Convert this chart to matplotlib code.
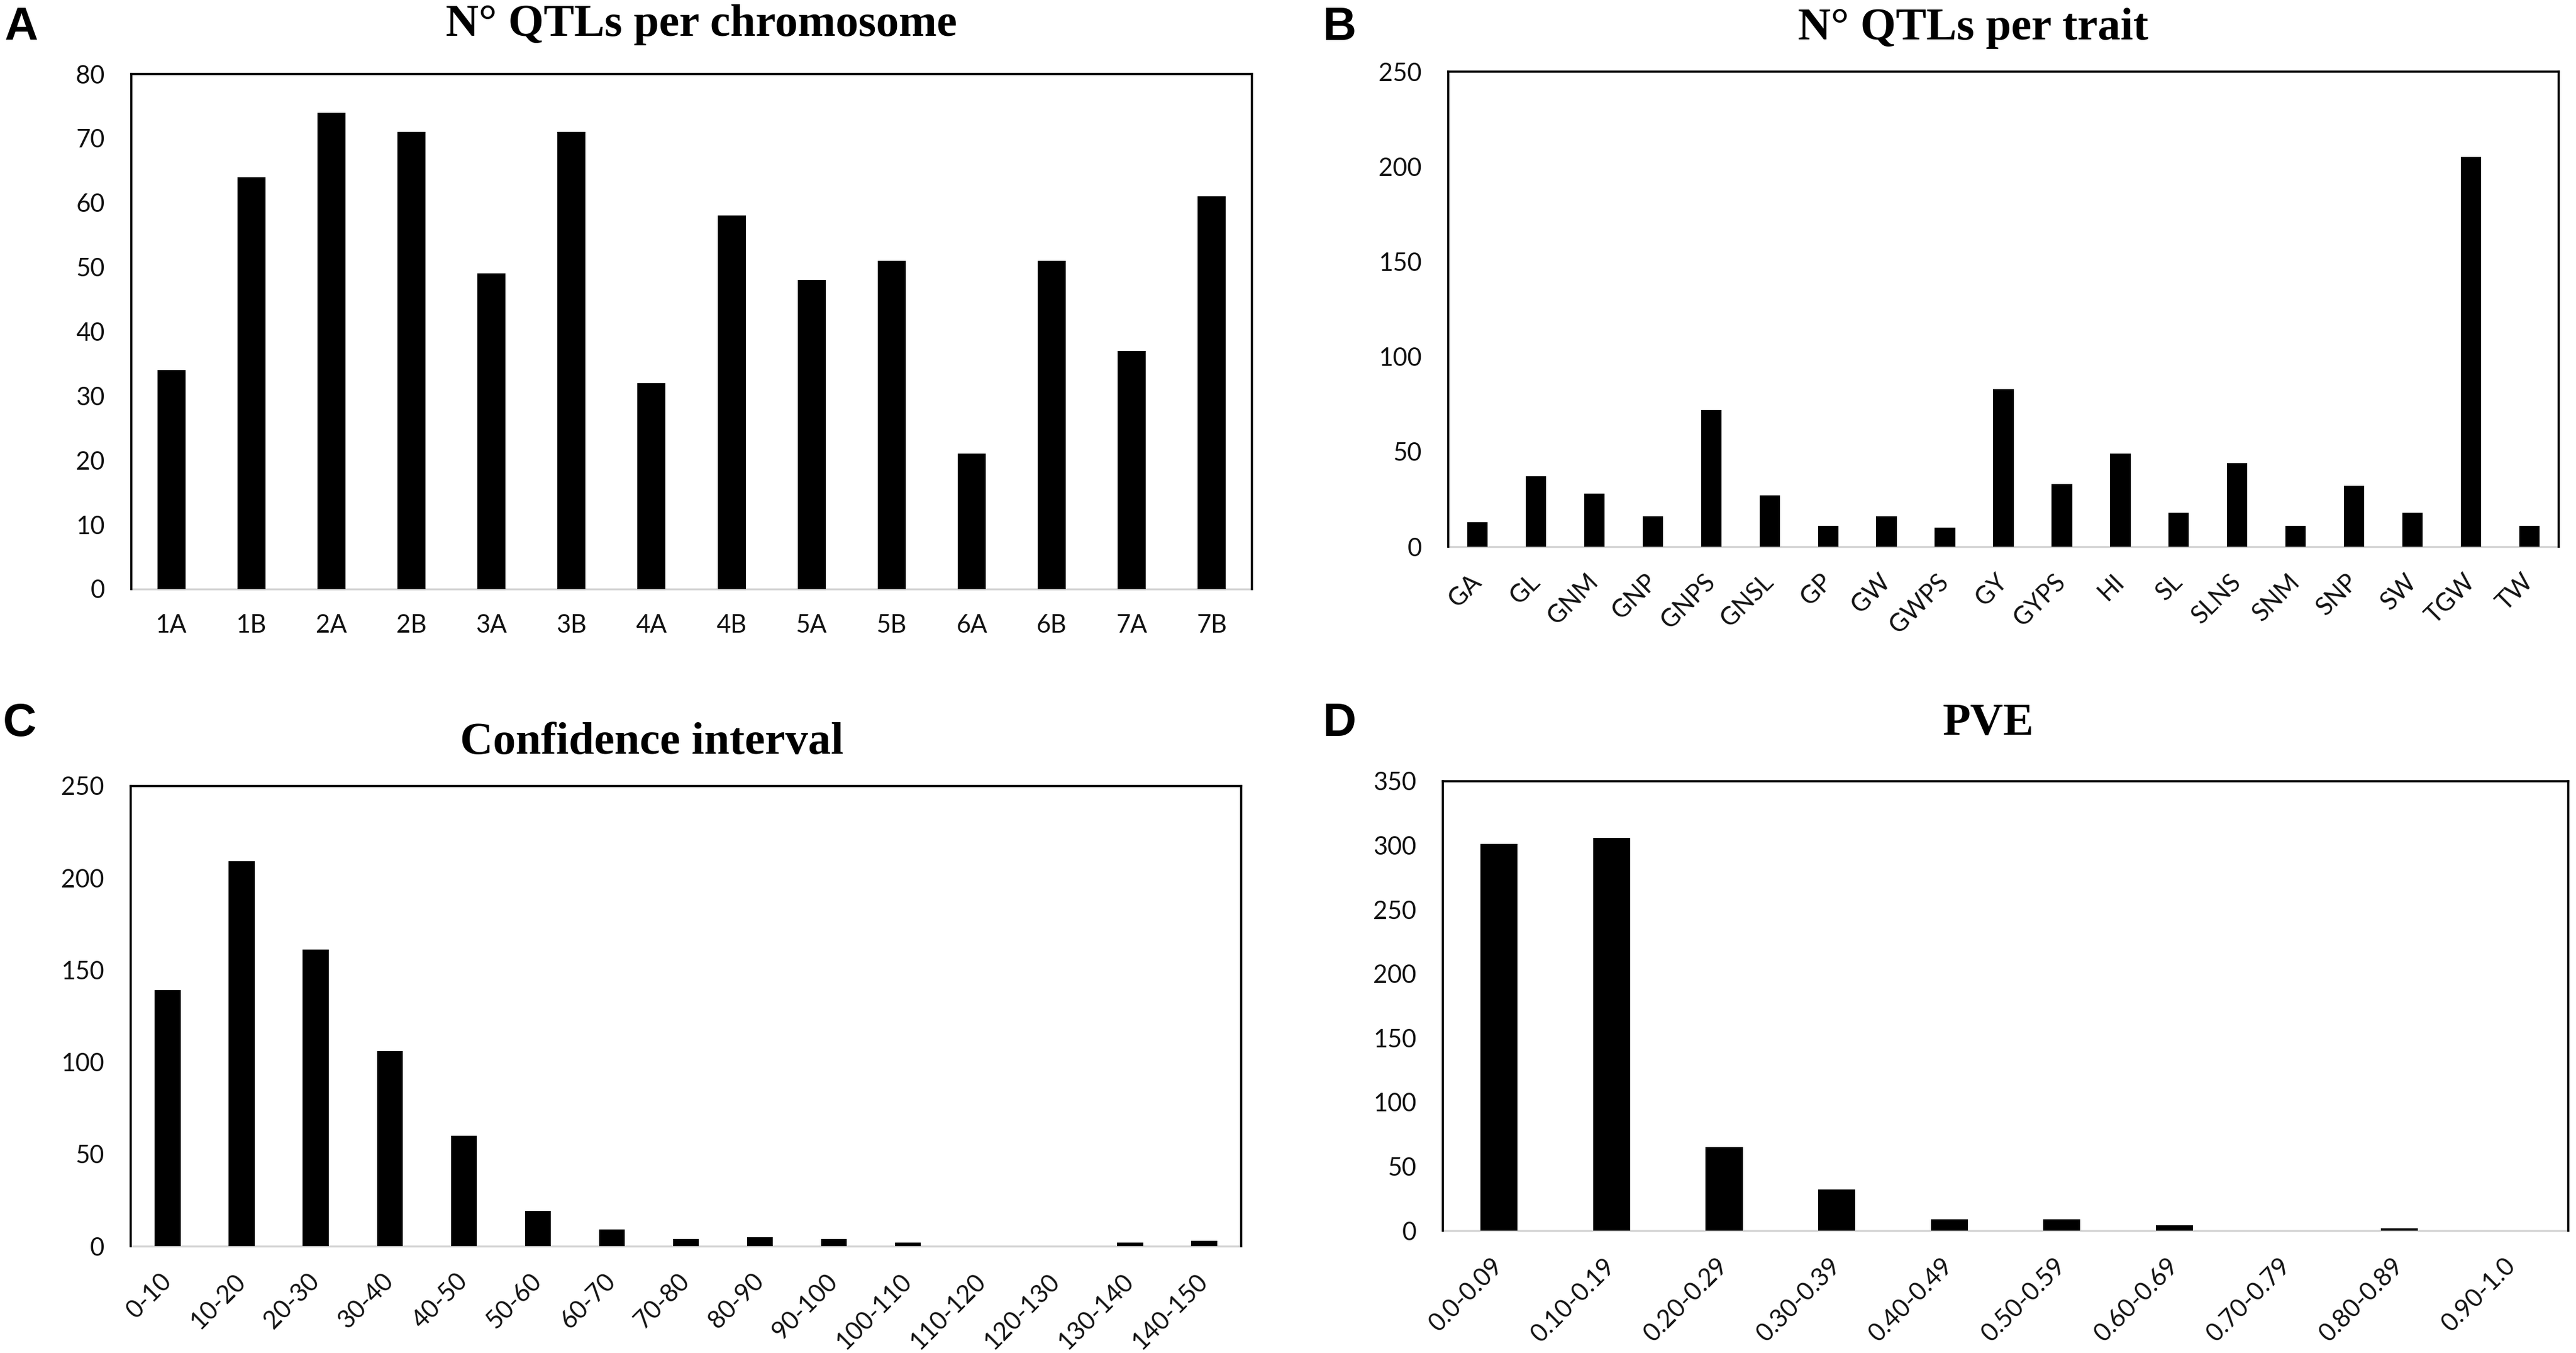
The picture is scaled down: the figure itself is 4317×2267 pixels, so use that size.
import matplotlib
matplotlib.use("Agg")
import matplotlib.pyplot as plt
import numpy as np

# ---- data ----
chrom_labels = ["1A", "1B", "2A", "2B", "3A", "3B", "4A", "4B", "5A", "5B", "6A", "6B", "7A", "7B"]
chrom_counts = [34, 64, 74, 71, 49, 71, 32, 58, 48, 51, 21, 51, 37, 61]

trait_labels = ["GA", "GL", "GNM", "GNP", "GNPS", "GNSL", "GP", "GW", "GWPS", "GY",
                "GYPS", "HI", "SL", "SLNS", "SNM", "SNP", "SW", "TGW", "TW"]
trait_counts = [13, 37, 28, 16, 72, 27, 11, 16, 10, 83, 33, 49, 18, 44, 11, 32, 18, 205, 11]

ci_labels = ["0-10", "10-20", "20-30", "30-40", "40-50", "50-60", "60-70", "70-80",
             "80-90", "90-100", "100-110", "110-120", "120-130", "130-140", "140-150"]
ci_counts = [139, 209, 161, 106, 60, 19, 9, 4, 5, 4, 2, 0, 0, 2, 3]

pve_labels = ["0.0-0.09", "0.10-0.19", "0.20-0.29", "0.30-0.39", "0.40-0.49",
              "0.50-0.59", "0.60-0.69", "0.70-0.79", "0.80-0.89", "0.90-1.0"]
pve_counts = [301, 306, 65, 32, 9, 9, 4, 0, 2, 0]

titles = ["N\u00b0 QTLs per chromosome", "N\u00b0 QTLs per trait", "Confidence interval", "PVE"]
letters = ["A", "B", "C", "D"]

# ---- layout ----
W, H = 4317, 2267
fig = plt.figure(figsize=(W / 100, H / 100), dpi=100)
fig.patch.set_facecolor("white")

def add_axes_px(x0, y0, x1, y1):
    return fig.add_axes([x0 / W, 1 - y1 / H, (x1 - x0) / W, (y1 - y0) / H])

TICK_FONT = "Lato"
TITLE_FONT = "Liberation Serif"
LETTER_FONT = "Liberation Sans"
TS = 30

def style_axes(ax, labels, values, ymax, ystep, width, rotate):
    x = np.arange(len(labels))
    ax.bar(x, values, width=width, color="black", zorder=3)
    ax.set_xlim(-0.5, len(labels) - 0.5)
    ax.set_ylim(0, ymax)
    ax.set_yticks(np.arange(0, ymax + 1, ystep))
    ax.set_xticks(x)
    for s in ["left", "top", "right"]:
        ax.spines[s].set_color("black")
        ax.spines[s].set_linewidth(2.6)
    ax.spines["bottom"].set_color("#d4d4d4")
    ax.spines["bottom"].set_linewidth(2.4)
    ax.spines["bottom"].set_zorder(2)
    ax.tick_params(axis="both", length=0)
    ax.tick_params(axis="y", pad=32)
    ax.set_yticklabels([str(v) for v in np.arange(0, ymax + 1, ystep)],
                       fontfamily=TICK_FONT, fontsize=TS, color="#111111")
    if rotate:
        ax.tick_params(axis="x", pad=38)
        ax.set_xticklabels(labels, rotation=45, ha="right", va="center",
                           rotation_mode="anchor", fontfamily=TICK_FONT,
                           fontsize=TS, color="#111111")
    else:
        ax.tick_params(axis="x", pad=30)
        ax.set_xticklabels(labels, fontfamily=TICK_FONT, fontsize=TS, color="#111111")

axA = add_axes_px(220, 124, 2098, 987)
style_axes(axA, chrom_labels, chrom_counts, 80, 10, 0.35, False)

axB = add_axes_px(2427, 120, 4288, 916)
style_axes(axB, trait_labels, trait_counts, 250, 50, 0.35, True)

axC = add_axes_px(219, 1317, 2080, 2088)
style_axes(axC, ci_labels, ci_counts, 250, 50, 0.35, True)

axD = add_axes_px(2418, 1309, 4304, 2062)
style_axes(axD, pve_labels, pve_counts, 350, 50, 0.33, True)

# titles
title_pos = [(1175, 60), (3307, 66), (1092, 1263), (3332, 1231)]
for t, (tx, ty) in zip(titles, title_pos):
    fig.text(tx / W, 1 - ty / H, t, ha="center", va="baseline",
             fontfamily=TITLE_FONT, fontweight="bold", fontsize=55, color="black")

# panel letters
letter_pos = [(7, 67), (2217, 67), (5, 1233), (2217, 1233)]
for l, (lx, ly) in zip(letters, letter_pos):
    fig.text(lx / W, 1 - ly / H, l, ha="left", va="baseline",
             fontfamily=LETTER_FONT, fontweight="bold", fontsize=56, color="black")

fig.savefig("out.png", dpi=100, facecolor="white")
